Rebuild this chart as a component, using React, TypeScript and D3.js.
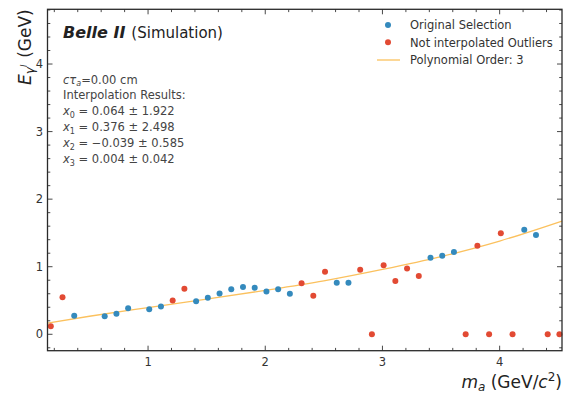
import React from "react";
import * as d3 from "d3";

const blueX = [0.37, 0.63, 0.73, 0.83, 1.01, 1.11, 1.41, 1.51, 1.61, 1.71, 1.81, 1.91, 2.01, 2.11, 2.21, 2.61, 2.71, 3.41, 3.51, 3.61, 4.21, 4.31];
const blueY = [0.275, 0.266, 0.305, 0.384, 0.37, 0.41, 0.49, 0.54, 0.605, 0.665, 0.7, 0.69, 0.635, 0.665, 0.6, 0.763, 0.763, 1.133, 1.163, 1.218, 1.547, 1.469];

const redX = [0.17, 0.27, 1.21, 1.31, 2.31, 2.41, 2.51, 2.81, 2.91, 3.01, 3.11, 3.21, 3.31, 3.71, 3.81, 3.91, 4.01, 4.11, 4.41, 4.51];
const redY = [0.12, 0.547, 0.5, 0.675, 0.754, 0.571, 0.926, 0.956, 0, 1.02, 0.79, 0.975, 0.862, 0, 1.311, 0, 1.494, 0, 0, 0];

const curveX = [0.142, 0.5, 1.0, 1.5, 2.0, 2.5, 3.0, 3.5, 4.0, 4.532];
const curveY = [0.165, 0.267, 0.396, 0.521, 0.65, 0.791, 0.96, 1.15, 1.38, 1.676];

const xTicks = [1, 2, 3, 4];
const yTicks = [0, 1, 2, 3, 4];

const legendLabels = ["Original Selection", "Not interpolated Outliers", "Polynomial Order: 3"];
const fitParams = [
  { i: "0", v: "0.064", e: "1.922" },
  { i: "1", v: "0.376", e: "2.498" },
  { i: "2", v: "\u22120.039", e: "0.585" },
  { i: "3", v: "0.004", e: "0.042" },
];

const BLUE = "#348ABD";
const RED = "#E24A33";
const ORANGE = "#FBC15E";
const FONT = "DejaVu Sans, Liberation Sans, sans-serif";

export default function App() {
  const W = 563, H = 393;
  const L = 47.5, R = 562, T = 9.3, B = 350.7;
  const x = d3.scaleLinear().domain([0.142, 4.532]).range([L, R]);
  const y = d3.scaleLinear().domain([-0.243, 4.81]).range([B, T]);

  const minorX = d3.range(0.2, 4.53, 0.2).filter((v) => Math.abs(v - Math.round(v)) > 1e-6);
  const minorY = d3.range(-0.2, 4.81, 0.2).filter((v) => Math.abs(v - Math.round(v)) > 1e-6);

  const line = d3
    .line<number>()
    .x((_, i) => x(curveX[i]))
    .y((d) => y(d))
    .curve(d3.curveMonotoneX);

  const tickColor = "#333";
  const majLen = 5, minLen = 2.8;

  return (
    <svg width={W} height={H} style={{ position: "absolute", left: 0, top: 0, background: "#fff" }} fontFamily={FONT}>
      {/* ticks */}
      <g stroke={tickColor} strokeWidth={0.9}>
        {xTicks.map((t) => (
          <g key={"xt" + t}>
            <line x1={x(t)} x2={x(t)} y1={B} y2={B - majLen} />
            <line x1={x(t)} x2={x(t)} y1={T} y2={T + majLen} />
          </g>
        ))}
        {minorX.map((t, i) => (
          <g key={"xm" + i}>
            <line x1={x(t)} x2={x(t)} y1={B} y2={B - minLen} />
            <line x1={x(t)} x2={x(t)} y1={T} y2={T + minLen} />
          </g>
        ))}
        {yTicks.map((t) => (
          <g key={"yt" + t}>
            <line x1={L} x2={L + majLen} y1={y(t)} y2={y(t)} />
            <line x1={R} x2={R - majLen} y1={y(t)} y2={y(t)} />
          </g>
        ))}
        {minorY.map((t, i) => (
          <g key={"ym" + i}>
            <line x1={L} x2={L + minLen} y1={y(t)} y2={y(t)} />
            <line x1={R} x2={R - minLen} y1={y(t)} y2={y(t)} />
          </g>
        ))}
      </g>

      {/* tick labels */}
      <g fill="#333" fontSize={11.5}>
        {xTicks.map((t) => (
          <text key={"xl" + t} x={x(t)} y={366} textAnchor="middle">{t}</text>
        ))}
        {yTicks.map((t) => (
          <text key={"yl" + t} x={43} y={y(t) + 4.2} textAnchor="end">{t}</text>
        ))}
      </g>

      {/* fit line */}
      <path d={line(curveY) || ""} fill="none" stroke={ORANGE} strokeWidth={1.3} />

      {/* points */}
      {blueX.map((v, i) => (
        <circle key={"b" + i} cx={x(v)} cy={y(blueY[i])} r={3} fill={BLUE} />
      ))}
      {redX.map((v, i) => (
        <circle key={"r" + i} cx={x(v)} cy={y(redY[i])} r={3} fill={RED} />
      ))}

      {/* frame */}
      <rect x={L} y={T} width={R - L} height={B - T} fill="none" stroke="#2a2a2a" strokeWidth={1.3} />

      {/* Belle II label */}
      <text x={63} y={38} fill="#222" fontSize={16}>
        <tspan fontWeight="bold" fontStyle="italic">Belle II</tspan>
        <tspan fontSize={15} dx={6}>(Simulation)</tspan>
      </text>

      {/* annotation */}
      <g fill="#444" fontSize={11.5}>
        <text x={63} y={83.5}>
          <tspan fontStyle="italic">c</tspan>
          <tspan fontStyle="italic">τ</tspan>
          <tspan fontStyle="italic" fontSize={8} dy={2.5}>a</tspan>
          <tspan dy={-2.5}>=0.00 cm</tspan>
        </text>
        <text x={63} y={99}>Interpolation Results:</text>
        {fitParams.map((p, k) => (
          <text key={"fp" + k} x={63} y={115 + k * 16}>
            <tspan fontStyle="italic">x</tspan>
            <tspan fontSize={8} dy={2.5}>{p.i}</tspan>
            <tspan dy={-2.5}>{" = " + p.v + " \u00B1 " + p.e}</tspan>
          </text>
        ))}
      </g>

      {/* legend */}
      <g fontSize={11.5} fill="#333">
        <circle cx={388} cy={25} r={3} fill={BLUE} />
        <text x={410} y={29.2}>{legendLabels[0]}</text>
        <circle cx={388} cy={42.3} r={3} fill={RED} />
        <text x={410} y={46.5}>{legendLabels[1]}</text>
        <line x1={377} x2={400} y1={60} y2={60} stroke={ORANGE} strokeWidth={1.3} />
        <text x={410} y={64.2}>{legendLabels[2]}</text>
      </g>

      {/* axis labels */}
      <text x={562} y={388} textAnchor="end" fontSize={17} fill="#222">
        <tspan fontStyle="italic">m</tspan>
        <tspan fontStyle="italic" fontSize={12} dy={3}>a</tspan>
        <tspan dy={-3}>{" (GeV/"}</tspan>
        <tspan fontStyle="italic">c</tspan>
        <tspan fontSize={12} dy={-7}>2</tspan>
        <tspan dy={7}>)</tspan>
      </text>
      <text transform={`translate(30.5, ${T}) rotate(-90)`} textAnchor="end" fontSize={17} fill="#222">
        <tspan fontStyle="italic">E</tspan>
        <tspan fontStyle="italic" fontSize={12} dy={3.5}>γ</tspan>
        <tspan fontStyle="italic" fontSize={8.5} dy={-7}>l</tspan>
        <tspan dy={3.5} dx={1.5}>{" (GeV)"}</tspan>
      </text>
    </svg>
  );
}
